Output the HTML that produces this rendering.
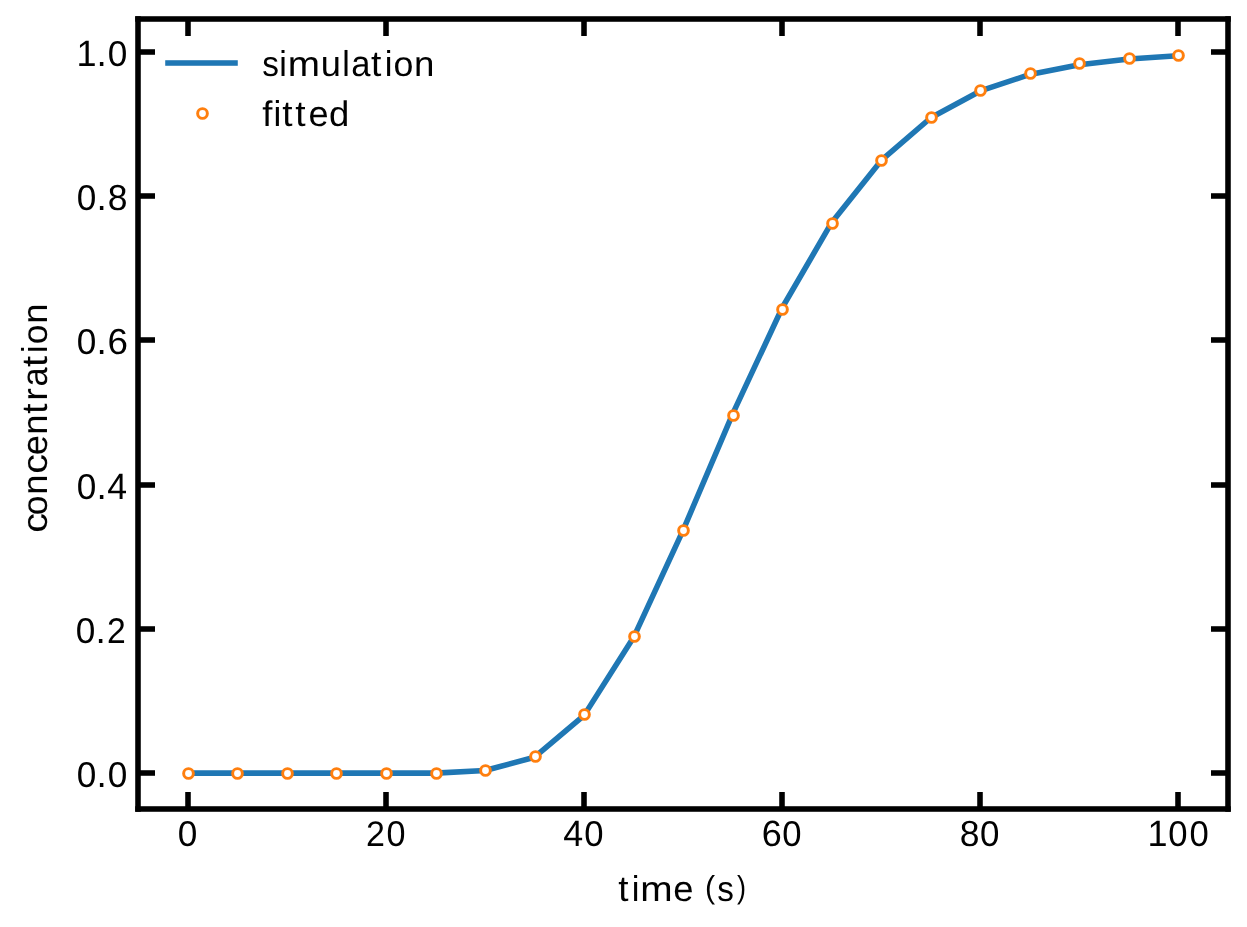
<!DOCTYPE html>
<html><head><meta charset="utf-8"><title>concentration vs time</title>
<style>html,body{margin:0;padding:0;background:#fff;}svg{display:block;}</style></head>
<body><svg width="1247" height="927" viewBox="0 0 1247 927">
<rect x="0" y="0" width="1247" height="927" fill="#ffffff"/>
<polyline points="187.85,773.14 237.38,773.14 286.91,773.14 336.44,773.14 385.97,773.14 435.51,773.14 485.04,770.51 534.57,757.23 584.10,715.37 633.63,637.30 683.16,530.04 732.69,413.89 782.22,307.75 831.75,222.47 881.28,160.42 930.81,117.74 980.35,90.95 1029.88,74.46 1079.41,64.79 1128.94,58.93 1178.47,55.64" fill="none" stroke="#1f77b4" stroke-width="5.5556" stroke-linejoin="round" stroke-linecap="square"/>
<circle cx="188.5" cy="773.5" r="4.8611" fill="#fff" stroke="#ff7f0e" stroke-width="2.95"/>
<circle cx="237.5" cy="773.5" r="4.8611" fill="#fff" stroke="#ff7f0e" stroke-width="2.95"/>
<circle cx="287.5" cy="773.5" r="4.8611" fill="#fff" stroke="#ff7f0e" stroke-width="2.95"/>
<circle cx="336.5" cy="773.5" r="4.8611" fill="#fff" stroke="#ff7f0e" stroke-width="2.95"/>
<circle cx="386.5" cy="773.5" r="4.8611" fill="#fff" stroke="#ff7f0e" stroke-width="2.95"/>
<circle cx="436.5" cy="773.5" r="4.8611" fill="#fff" stroke="#ff7f0e" stroke-width="2.95"/>
<circle cx="485.5" cy="770.5" r="4.8611" fill="#fff" stroke="#ff7f0e" stroke-width="2.95"/>
<circle cx="535.5" cy="756.5" r="4.8611" fill="#fff" stroke="#ff7f0e" stroke-width="2.95"/>
<circle cx="584.5" cy="714.5" r="4.8611" fill="#fff" stroke="#ff7f0e" stroke-width="2.95"/>
<circle cx="634.5" cy="636.5" r="4.8611" fill="#fff" stroke="#ff7f0e" stroke-width="2.95"/>
<circle cx="683.5" cy="530.5" r="4.8611" fill="#fff" stroke="#ff7f0e" stroke-width="2.95"/>
<circle cx="733.5" cy="415.5" r="4.8611" fill="#fff" stroke="#ff7f0e" stroke-width="2.95"/>
<circle cx="782.5" cy="309.5" r="4.8611" fill="#fff" stroke="#ff7f0e" stroke-width="2.95"/>
<circle cx="832.5" cy="223.5" r="4.8611" fill="#fff" stroke="#ff7f0e" stroke-width="2.95"/>
<circle cx="881.5" cy="160.5" r="4.8611" fill="#fff" stroke="#ff7f0e" stroke-width="2.95"/>
<circle cx="931.5" cy="117.5" r="4.8611" fill="#fff" stroke="#ff7f0e" stroke-width="2.95"/>
<circle cx="980.5" cy="90.5" r="4.8611" fill="#fff" stroke="#ff7f0e" stroke-width="2.95"/>
<circle cx="1030.5" cy="73.5" r="4.8611" fill="#fff" stroke="#ff7f0e" stroke-width="2.95"/>
<circle cx="1079.5" cy="63.5" r="4.8611" fill="#fff" stroke="#ff7f0e" stroke-width="2.95"/>
<circle cx="1129.5" cy="58.5" r="4.8611" fill="#fff" stroke="#ff7f0e" stroke-width="2.95"/>
<circle cx="1178.5" cy="55.5" r="4.8611" fill="#fff" stroke="#ff7f0e" stroke-width="2.95"/>
<g fill="#000"><rect x="185.222" y="792" width="5.556" height="17"/><rect x="185.222" y="19" width="5.556" height="17"/><rect x="383.222" y="792" width="5.556" height="17"/><rect x="383.222" y="19" width="5.556" height="17"/><rect x="581.222" y="792" width="5.556" height="17"/><rect x="581.222" y="19" width="5.556" height="17"/><rect x="779.222" y="792" width="5.556" height="17"/><rect x="779.222" y="19" width="5.556" height="17"/><rect x="977.222" y="792" width="5.556" height="17"/><rect x="977.222" y="19" width="5.556" height="17"/><rect x="1175.222" y="792" width="5.556" height="17"/><rect x="1175.222" y="19" width="5.556" height="17"/><rect x="138" y="49.222" width="17" height="5.556"/><rect x="1211" y="49.222" width="17" height="5.556"/><rect x="138" y="193.222" width="17" height="5.556"/><rect x="1211" y="193.222" width="17" height="5.556"/><rect x="138" y="337.222" width="17" height="5.556"/><rect x="1211" y="337.222" width="17" height="5.556"/><rect x="138" y="482.222" width="17" height="5.556"/><rect x="1211" y="482.222" width="17" height="5.556"/><rect x="138" y="626.222" width="17" height="5.556"/><rect x="1211" y="626.222" width="17" height="5.556"/><rect x="138" y="770.222" width="17" height="5.556"/><rect x="1211" y="770.222" width="17" height="5.556"/></g>
<g fill="#000"><rect x="135.2222" y="16.2222" width="5.5556" height="795.5556"/><rect x="1225.2222" y="16.2222" width="5.5556" height="795.5556"/><rect x="135.2222" y="16.2222" width="1095.5556" height="5.5556"/><rect x="135.2222" y="806.2222" width="1095.5556" height="5.5556"/></g>
<rect x="165.2222" y="60.2222" width="72.5556" height="5.5556" fill="#1f77b4"/>
<circle cx="202.5" cy="113.5" r="4.8611" fill="#fff" stroke="#ff7f0e" stroke-width="2.95"/>
<g font-family="'Liberation Sans', sans-serif" fill="#000" text-rendering="geometricPrecision" opacity="0.999"><text y="787.00" font-size="35.55"><tspan x="76.65" textLength="19.57" lengthAdjust="spacingAndGlyphs" font-size="35.81">0</tspan><tspan x="96.40" textLength="10.28" lengthAdjust="spacingAndGlyphs" font-size="37.54">.</tspan><tspan x="107.65" textLength="19.57" lengthAdjust="spacingAndGlyphs" font-size="35.81">0</tspan></text><text y="643.00" font-size="35.57"><tspan x="75.65" textLength="19.57" lengthAdjust="spacingAndGlyphs" font-size="35.83">0</tspan><tspan x="95.40" textLength="10.29" lengthAdjust="spacingAndGlyphs" font-size="37.70">.</tspan><tspan x="106.91" textLength="18.78" lengthAdjust="spacingAndGlyphs" font-size="35.70">2</tspan></text><text y="499.00" font-size="35.65"><tspan x="76.65" textLength="19.57" lengthAdjust="spacingAndGlyphs" font-size="35.92">0</tspan><tspan x="96.40" textLength="10.28" lengthAdjust="spacingAndGlyphs" font-size="37.36">.</tspan><tspan x="107.32" textLength="19.80" lengthAdjust="spacingAndGlyphs" font-size="36.72">4</tspan></text><text y="354.00" font-size="35.54"><tspan x="76.65" textLength="19.57" lengthAdjust="spacingAndGlyphs" font-size="35.80">0</tspan><tspan x="96.40" textLength="10.29" lengthAdjust="spacingAndGlyphs" font-size="37.39">.</tspan><tspan x="107.41" textLength="20.47" lengthAdjust="spacingAndGlyphs" font-size="36.33">6</tspan></text><text y="210.00" font-size="35.62"><tspan x="76.65" textLength="19.57" lengthAdjust="spacingAndGlyphs" font-size="35.89">0</tspan><tspan x="96.40" textLength="10.28" lengthAdjust="spacingAndGlyphs" font-size="37.48">.</tspan><tspan x="107.64" textLength="19.75" lengthAdjust="spacingAndGlyphs" font-size="36.14">8</tspan></text><text y="66.00" font-size="35.62"><tspan x="76.39" textLength="20.04" lengthAdjust="spacingAndGlyphs" font-size="36.69">1</tspan><tspan x="96.40" textLength="10.28" lengthAdjust="spacingAndGlyphs" font-size="37.48">.</tspan><tspan x="107.65" textLength="19.57" lengthAdjust="spacingAndGlyphs" font-size="35.89">0</tspan></text><text y="846.00" font-size="35.49"><tspan x="177.65" textLength="19.57" lengthAdjust="spacingAndGlyphs" font-size="35.89">0</tspan></text><text y="846.00" font-size="35.59"><tspan x="365.90" textLength="18.93" lengthAdjust="spacingAndGlyphs">2</tspan><tspan x="386.38" textLength="18.99" lengthAdjust="spacingAndGlyphs" font-size="35.98">0</tspan></text><text y="846.00" font-size="35.61"><tspan x="563.16" textLength="19.94" lengthAdjust="spacingAndGlyphs" font-size="36.68">4</tspan><tspan x="584.13" textLength="19.28" lengthAdjust="spacingAndGlyphs" font-size="35.88">0</tspan></text><text y="846.00" font-size="35.45"><tspan x="761.64" textLength="20.02" lengthAdjust="spacingAndGlyphs" font-size="36.51">6</tspan><tspan x="782.13" textLength="19.28" lengthAdjust="spacingAndGlyphs" font-size="35.85">0</tspan></text><text y="846.00" font-size="35.53"><tspan x="959.64" textLength="19.75" lengthAdjust="spacingAndGlyphs" font-size="36.18">8</tspan><tspan x="979.91" textLength="19.41" lengthAdjust="spacingAndGlyphs" font-size="35.93">0</tspan></text><text y="846.00" font-size="35.59"><tspan x="1147.39" textLength="20.04" lengthAdjust="spacingAndGlyphs" font-size="36.66">1</tspan><tspan x="1168.13" textLength="19.28" lengthAdjust="spacingAndGlyphs" font-size="35.86">0</tspan><tspan x="1189.38" textLength="19.28" lengthAdjust="spacingAndGlyphs" font-size="35.86">0</tspan></text><text y="901.00" font-size="35.60"><tspan x="618.18" textLength="10.28" lengthAdjust="spacingAndGlyphs" font-size="36.00" y="901.00">t</tspan><tspan x="631.63" textLength="7.73" lengthAdjust="spacingAndGlyphs" font-size="35.87" y="901.00">i</tspan><tspan x="640.17" textLength="32.38" lengthAdjust="spacingAndGlyphs" font-size="35.33" y="901.00">m</tspan><tspan x="673.15" textLength="20.27" lengthAdjust="spacingAndGlyphs" y="901.00">e</tspan><tspan style="white-space:pre"> </tspan><tspan x="704.90" textLength="10.14" lengthAdjust="spacingAndGlyphs" font-size="31.70" y="898.00">(</tspan><tspan x="717.16" textLength="16.63" lengthAdjust="spacingAndGlyphs" y="901.00">s</tspan><tspan x="736.91" textLength="9.05" lengthAdjust="spacingAndGlyphs" font-size="31.70" y="898.00">)</tspan></text><text y="76.00" font-size="35.43"><tspan x="262.15" textLength="16.69" lengthAdjust="spacingAndGlyphs" font-size="35.57">s</tspan><tspan x="279.14" textLength="7.57" lengthAdjust="spacingAndGlyphs" font-size="35.83">i</tspan><tspan x="287.68" textLength="32.22" lengthAdjust="spacingAndGlyphs" font-size="35.30">m</tspan><tspan x="320.68" textLength="20.17" lengthAdjust="spacingAndGlyphs" font-size="36.08">u</tspan><tspan x="342.13" textLength="7.55" lengthAdjust="spacingAndGlyphs" font-size="35.96">l</tspan><tspan x="351.16" textLength="19.21" lengthAdjust="spacingAndGlyphs" font-size="36.34">a</tspan><tspan x="370.91" textLength="10.38" lengthAdjust="spacingAndGlyphs" font-size="36.10">t</tspan><tspan x="384.66" textLength="7.76" lengthAdjust="spacingAndGlyphs" font-size="35.96">i</tspan><tspan x="393.43" textLength="19.91" lengthAdjust="spacingAndGlyphs" font-size="35.03">o</tspan><tspan x="413.91" textLength="20.38" lengthAdjust="spacingAndGlyphs" font-size="35.30">n</tspan></text><text y="126.00" font-size="35.46"><tspan x="262.16" textLength="10.16" lengthAdjust="spacingAndGlyphs">f</tspan><tspan x="273.39" textLength="7.78" lengthAdjust="spacingAndGlyphs" font-size="35.99">i</tspan><tspan x="282.22" textLength="10.30" lengthAdjust="spacingAndGlyphs" font-size="35.85">t</tspan><tspan x="295.17" textLength="10.37" lengthAdjust="spacingAndGlyphs" font-size="35.85">t</tspan><tspan x="308.41" textLength="20.10" lengthAdjust="spacingAndGlyphs" font-size="35.59">e</tspan><tspan x="328.90" textLength="20.27" lengthAdjust="spacingAndGlyphs">d</tspan></text><text transform="translate(46.97 0) rotate(-90)" y="0" font-size="35.35"><tspan x="-532.88" textLength="19.75" lengthAdjust="spacingAndGlyphs" font-size="35.48">c</tspan><tspan x="-515.38" textLength="19.72" lengthAdjust="spacingAndGlyphs" font-size="34.95">o</tspan><tspan x="-494.86" textLength="20.25" lengthAdjust="spacingAndGlyphs">n</tspan><tspan x="-473.88" textLength="19.75" lengthAdjust="spacingAndGlyphs" font-size="35.48">c</tspan><tspan x="-455.36" textLength="20.22" lengthAdjust="spacingAndGlyphs" font-size="35.61">e</tspan><tspan x="-434.86" textLength="20.25" lengthAdjust="spacingAndGlyphs">n</tspan><tspan x="-413.89" textLength="10.28" lengthAdjust="spacingAndGlyphs" font-size="36.01">t</tspan><tspan x="-400.88" textLength="12.59" lengthAdjust="spacingAndGlyphs">r</tspan><tspan x="-386.59" textLength="19.13" lengthAdjust="spacingAndGlyphs" font-size="36.41">a</tspan><tspan x="-367.13" textLength="11.11" lengthAdjust="spacingAndGlyphs" font-size="36.01">t</tspan><tspan x="-353.10" textLength="7.51" lengthAdjust="spacingAndGlyphs" font-size="36.01">i</tspan><tspan x="-344.38" textLength="19.72" lengthAdjust="spacingAndGlyphs" font-size="34.95">o</tspan><tspan x="-323.86" textLength="20.25" lengthAdjust="spacingAndGlyphs">n</tspan></text></g>
</svg></body></html>
